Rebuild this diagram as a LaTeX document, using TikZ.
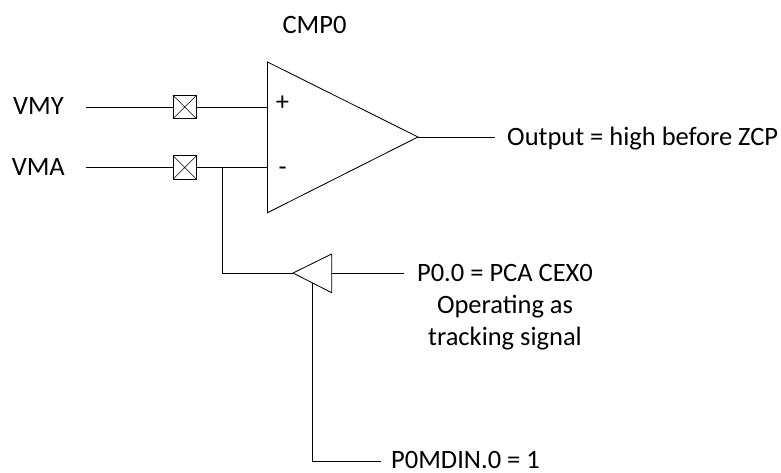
\documentclass[tikz,border=0pt]{standalone}
\usepackage{fontspec}
\setmainfont{Carlito}
\tikzset{
  wire/.style={draw=black,line width=0.85pt},
  lbl/.style={inner sep=0pt,font=\fontsize{26.5}{32}\selectfont,text=black},
  xbox/.style={draw=black,line width=0.85pt,rectangle,minimum size=23.5pt,inner sep=0pt,
    path picture={\draw[line width=0.6pt] (path picture bounding box.north west)--(path picture bounding box.south east)
      (path picture bounding box.north east)--(path picture bounding box.south west);}}
}
\begin{document}
\begin{tikzpicture}[x=1pt,y=-1pt]
\useasboundingbox (0,0) rectangle (781,472);
% comparator
\coordinate (cmpT) at (267.5,62);
\coordinate (cmpB) at (267.5,212.7);
\coordinate (cmpO) at (418,137);
\draw[wire,line join=miter] (cmpT)--(cmpO)--(cmpB)--cycle;
\coordinate (cmpP) at (267.5,107);
\coordinate (cmpM) at (267.5,167.5);
% buffer
\coordinate (bufT) at (331.7,254);
\coordinate (bufB) at (331.7,292.7);
\coordinate (bufO) at (293,273);
\coordinate (bufI) at (331.7,273);
\coordinate (bufE) at (312,283);
\draw[wire] (bufT)--(bufO)--(bufB)--cycle;
% switches
\node[xbox] (sw1) at (184.7,107) {};
\node[xbox] (sw2) at (184.7,167.5) {};
% labels
\node[lbl,anchor=base] (title) at (314.5,33) {CMP0};
\node[lbl,anchor=base east] (vmy) at (64,114.7) {VMY};
\node[lbl,anchor=base east] (vma) at (65,175.2) {VMA};
\node[lbl] (plus) at (282.4,103.3) {+};
\node[lbl] (minus) at (282.6,171.7) {-};
\node[lbl,anchor=base west] (out) at (507,145) {Output = high before ZCP};
\node[lbl,align=center,anchor=north] (pca) at (505,263.7) {P0.0 = PCA CEX0\\Operating as\\tracking signal};
\node[lbl,anchor=base west] (oe) at (391,468.3) {P0MDIN.0 = 1};
% free ends
\coordinate (vmyE) at (86,107);
\coordinate (vmaE) at (86,167.5);
\coordinate (outE) at (495,137);
\coordinate (pcaE) at (404,273);
\coordinate (oeE) at (381,461.7);
\coordinate (jn) at (222.5,167.5);
% connectors
\draw[wire] (vmyE)--(sw1.west);
\draw[wire] (sw1.east)--(cmpP);
\draw[wire] (vmaE)--(sw2.west);
\draw[wire] (sw2.east)--(cmpM);
\draw[wire] (cmpO)--(outE);
\draw[wire] (jn)|-(bufO);
\draw[wire] (bufI)--(pcaE);
\draw[wire] (bufE)|-(oeE);
\end{tikzpicture}
\end{document}
